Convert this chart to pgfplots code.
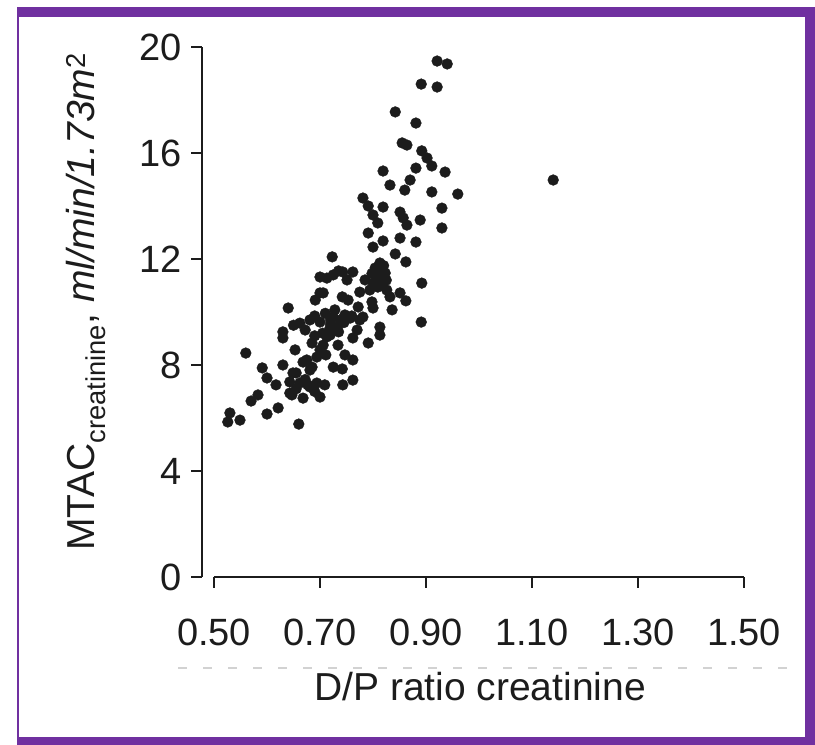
\documentclass[border=0pt]{standalone}
\usepackage{pgfplots}
\pgfplotsset{compat=1.18}
\usepackage{pgfplotstable}
\usepackage{fontspec}
\setmainfont{Liberation Sans}
\definecolor{framecol}{RGB}{112,48,160}
\definecolor{ink}{RGB}{28,28,28}

\pgfplotstableread{
x y
0.921 19.47
0.940 19.36
0.891 18.60
0.921 18.49
0.842 17.55
0.881 17.13
0.855 16.38
0.864 16.30
0.892 16.08
0.902 15.81
0.911 15.51
0.936 15.28
0.819 15.32
0.832 14.79
0.881 15.43
0.870 14.98
0.860 14.60
0.911 14.53
0.960 14.45
0.781 14.30
0.791 14.00
0.800 13.66
0.809 13.36
0.819 13.96
0.851 13.77
0.857 13.55
0.864 13.28
0.889 13.47
0.930 13.92
0.930 13.17
0.791 12.98
0.819 12.68
0.851 12.79
0.881 12.64
0.800 12.45
0.723 12.08
0.842 12.19
0.862 11.89
0.813 11.85
0.813 11.58
0.808 11.32
0.823 11.47
0.800 11.09
0.817 11.13
0.794 10.83
0.809 10.94
0.892 11.09
0.700 11.32
0.713 11.28
0.743 11.51
0.762 11.51
0.751 11.21
0.700 10.72
0.691 10.45
0.742 10.57
0.753 10.45
0.772 10.19
0.781 9.81
0.798 10.38
0.800 10.15
0.832 10.57
0.851 10.72
0.862 10.42
0.891 9.62
0.640 10.15
0.662 9.58
0.681 9.70
0.700 9.62
0.725 9.81
0.738 9.70
0.732 9.43
0.719 9.40
0.770 9.32
0.762 9.02
0.813 9.43
0.813 9.13
0.791 8.83
0.630 9.25
0.630 9.02
0.713 9.06
0.706 8.75
0.700 8.57
0.694 8.30
0.675 8.19
0.685 7.92
0.762 8.19
0.725 7.92
0.742 7.85
0.630 8.00
0.591 7.89
0.600 7.51
0.560 8.45
0.649 7.70
0.643 7.36
0.662 7.32
0.677 7.25
0.694 7.32
0.709 7.25
0.762 7.43
0.743 7.25
0.643 6.94
0.668 6.75
0.700 6.79
0.570 6.64
0.621 6.38
0.600 6.15
0.530 6.19
0.526 5.85
0.549 5.92
0.660 5.77
1.140 14.98
0.706 10.72
0.668 8.11
0.681 7.81
0.655 7.70
0.647 6.87
0.681 7.17
0.728 10.08
0.719 9.13
0.747 9.89
0.757 9.77
0.734 8.75
0.747 8.38
0.711 8.38
0.685 8.83
0.775 10.75
0.785 11.21
0.804 11.66
0.826 10.83
0.836 10.08
0.775 9.70
0.672 9.32
0.653 8.57
0.617 7.25
0.583 6.87
0.650 9.50
0.690 9.85
0.710 9.95
0.720 9.70
0.745 9.60
0.760 9.85
0.705 9.20
0.690 9.10
0.672 7.45
0.690 7.00
0.655 7.10
0.820 11.75
0.815 11.35
0.805 11.00
0.825 11.20
0.798 11.45
0.725 11.40
0.735 11.55
0.720 9.55
0.735 9.25
}\pts

\begin{document}
\begin{tikzpicture}[x=1pt,y=1pt]
\useasboundingbox (0,0) rectangle (815,745);
\begin{axis}[
  at={(202pt,168pt)}, anchor=south west,
  scale only axis, width=542pt, height=530pt,
  xmin=0.47736, xmax=1.5, ymin=0, ymax=20,
  clip=false,
  axis x line*=bottom, axis y line*=left,
  x axis line style={shorten <=12pt},
  axis line style={line width=2pt, ink, -},
  tick align=outside, major tick length=11pt,
  tick style={line width=2pt, ink},
  xtick={0.5,0.7,0.9,1.1,1.3,1.5},
  xticklabels={0.50,0.70,0.90,1.10,1.30,1.50},
  ytick={0,4,8,12,16,20},
  yticklabels={0,4,8,12,16,20},
  tick label style={font=\fontsize{38}{42}\selectfont, text=ink},
  xticklabel style={anchor=center, yshift=-44pt},
  yticklabel style={anchor=east, xshift=-6pt},
  xlabel={D/P ratio creatinine},
  ylabel={MTAC\textsubscript{creatinine}, \textit{ml/min/1.73m}\textsuperscript{2}},
  label style={font=\fontsize{39}{42}\selectfont, text=ink},
  xlabel style={at={(axis description cs:0.513,-0.2075)}, anchor=center},
  ylabel style={at={(axis description cs:-0.214,0.519)}, anchor=center},
]
\addplot[only marks, mark=*, mark size=5.4pt, mark options={fill=ink, draw=ink}] table[x=x,y=y] {\pts};
\end{axis}
\draw[gray!35, line width=1.2pt, dash pattern=on 9pt off 16pt] (178,77) -- (790,77);
\fill[framecol] (18,728) rectangle (815,738);
\fill[framecol] (805,0) rectangle (815,738);
\fill[framecol] (18,0) rectangle (815,8);
\fill[framecol] (17.2,0) rectangle (19.2,738);
\end{tikzpicture}
\end{document}
